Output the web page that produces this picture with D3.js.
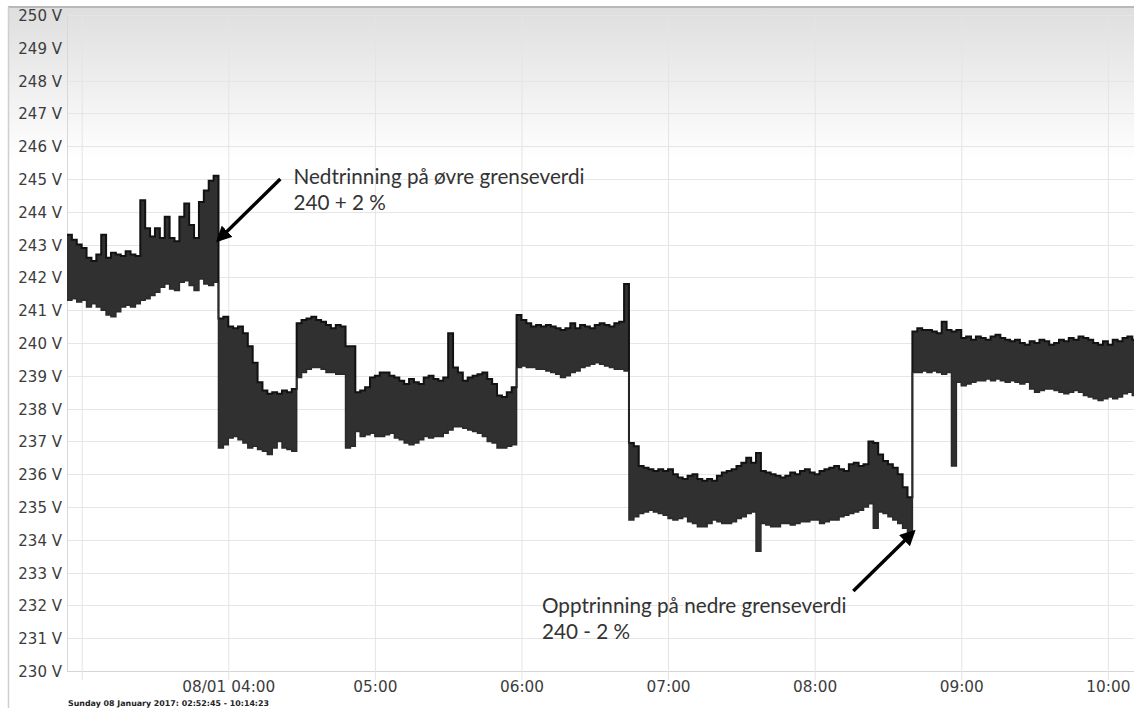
<!DOCTYPE html>
<html>
<head>
<meta charset="utf-8">
<script src="https://cdn.jsdelivr.net/npm/d3@7/dist/d3.min.js"></script>
<style>
  html, body { margin: 0; padding: 0; background: #fff; }
  svg { display: block; }
</style>
</head>
<body>
<svg id="chart" width="1134" height="708"></svg>
<script>
// Spenningsmåling 08.01.2017 – min/maks per 2-minutters intervall
const sampleStart = "2017-01-08T02:54:00";
const sampleStepMinutes = 2;

// Høyeste målte spenning i hvert intervall (V)
const voltMax = [
  243.3, 243.15, 243.0, 242.9, 242.6, 242.5, 242.7, 243.3, 242.6, 242.75,
  242.7, 242.65, 242.8, 242.7, 242.65, 244.35, 243.5, 243.25, 243.5, 243.2,
  243.85, 243.2, 243.1, 243.85, 244.25, 243.6, 243.2, 244.3, 244.65, 244.95,
  245.1, 240.75, 240.8, 240.5, 240.45, 240.5, 240.3, 239.9, 239.4, 238.8,
  238.55, 238.45, 238.5, 238.45, 238.55, 238.5, 238.6, 240.6, 240.7, 240.75,
  240.8, 240.7, 240.65, 240.55, 240.45, 240.55, 240.5, 239.9, 239.9, 238.5,
  238.55, 238.65, 238.95, 239.0, 239.1, 239.1, 239.0, 238.95, 238.85, 238.75,
  238.9, 238.8, 238.75, 238.95, 239.0, 238.9, 238.85, 238.95, 240.3, 239.25,
  239.1, 238.85, 238.95, 239.0, 239.05, 239.1, 238.9, 238.75, 238.4, 238.35,
  238.5, 238.65, 240.85, 240.7, 240.6, 240.5, 240.55, 240.5, 240.55, 240.5,
  240.45, 240.4, 240.45, 240.6, 240.45, 240.55, 240.5, 240.45, 240.55, 240.6,
  240.55, 240.5, 240.6, 240.65, 241.8, 236.95, 236.85, 236.25, 236.2, 236.15,
  236.1, 236.15, 236.1, 236.15, 236.0, 235.9, 235.85, 235.95, 236.0, 235.85,
  235.8, 235.85, 235.8, 235.95, 236.05, 236.1, 236.15, 236.25, 236.35, 236.5,
  236.35, 236.65, 236.1, 236.05, 236.0, 235.95, 235.9, 235.95, 236.05, 236.0,
  236.1, 236.15, 236.05, 236.0, 236.1, 236.15, 236.2, 236.25, 236.15, 236.1,
  236.3, 236.35, 236.25, 236.3, 237.0, 236.95, 236.6, 236.4, 236.3, 236.2,
  236.0, 235.6, 235.3, 240.35, 240.45, 240.4, 240.4, 240.35, 240.3, 240.65,
  240.4, 240.35, 240.4, 240.15, 240.2, 240.1, 240.2, 240.15, 240.1, 240.2,
  240.25, 240.15, 240.1, 240.05, 240.1, 240.0, 239.95, 240.05, 240.0, 240.1,
  240.05, 239.95, 240.0, 240.1, 240.05, 240.15, 240.1, 240.2, 240.15, 240.1,
  240.0, 239.95, 240.05, 239.95, 240.1, 240.05, 240.15, 240.2, 240.1, 240.05,
  240.0
];

// Laveste målte spenning i hvert intervall (V)
const voltMin = [
  241.3, 241.35, 241.25, 241.3, 241.1, 241.2, 241.1, 241.0, 240.85, 240.8,
  240.95, 241.1, 241.15, 241.1, 241.2, 241.3, 241.35, 241.45, 241.55, 241.7,
  241.8, 241.65, 241.6, 241.85, 241.9, 241.75, 241.6, 241.95, 241.8, 241.75,
  241.85, 236.8, 236.9, 237.1, 237.15, 237.05, 236.95, 236.8, 236.85, 236.75,
  236.7, 236.6, 236.8, 237.0, 236.8, 236.75, 236.7, 238.95, 239.1, 239.2,
  239.25, 239.25, 239.2, 239.1, 239.1, 239.05, 239.05, 236.8, 236.85, 237.3,
  237.15, 237.2, 237.25, 237.15, 237.15, 237.2, 237.25, 237.1, 237.05, 236.95,
  236.9, 236.95, 237.05, 237.15, 237.1, 237.15, 237.15, 237.25, 237.35, 237.45,
  237.45, 237.4, 237.35, 237.3, 237.25, 237.15, 237.0, 236.95, 236.8, 236.8,
  236.85, 236.9, 239.25, 239.3, 239.25, 239.25, 239.2, 239.2, 239.15, 239.1,
  239.05, 238.95, 239.0, 239.1, 239.15, 239.25, 239.3, 239.35, 239.4, 239.35,
  239.3, 239.25, 239.2, 239.2, 239.15, 234.6, 234.7, 234.8, 234.85, 234.9,
  234.85, 234.8, 234.75, 234.65, 234.6, 234.65, 234.7, 234.55, 234.5, 234.4,
  234.4, 234.5, 234.6, 234.55, 234.5, 234.5, 234.55, 234.65, 234.7, 234.8,
  234.85, 233.65, 234.5, 234.45, 234.4, 234.4, 234.5, 234.5, 234.45, 234.5,
  234.55, 234.55, 234.6, 234.6, 234.5, 234.55, 234.6, 234.6, 234.7, 234.75,
  234.8, 234.85, 234.9, 235.0, 235.1, 234.35, 234.85, 234.8, 234.7, 234.6,
  234.5, 234.35, 234.15, 239.1, 239.1, 239.15, 239.1, 239.15, 239.1, 239.05,
  239.1, 236.25, 238.8, 238.7, 238.75, 238.8, 238.85, 238.85, 238.9, 238.85,
  238.9, 238.85, 238.8, 238.85, 238.8, 238.75, 238.8, 238.6, 238.5, 238.55,
  238.6, 238.6, 238.55, 238.5, 238.45, 238.5, 238.55, 238.5, 238.4, 238.35,
  238.3, 238.25, 238.3, 238.35, 238.3, 238.35, 238.45, 238.5, 238.4, 238.35,
  238.3
];

const voltTicks = d3.range(230, 251, 1);
const viewStart = "2017-01-08T02:54:00";
const viewEnd = "2017-01-08T10:14:23";
const periodLabel = "Sunday 08 January 2017: 02:52:45 - 10:14:23";

// Merknader: pil (fra -> til) og tekstens startpunkt, i tid og volt
const notes = [
  { lines: ["Nedtrinning på øvre grenseverdi", "240 + 2 %"],
    from: ["04:21:18", 245.0], to: ["03:55:55", 243.14], text: ["04:26:40", 244.85] },
  { lines: ["Opptrinning på nedre grenseverdi", "240 - 2 %"],
    from: ["08:15:50", 232.44], to: ["08:40:25", 234.24], text: ["06:08:25", 231.77] }
];

const W = 1134, H = 708;
const plot = { left: 67, top: 15, bottom: 671, right: W };

const svg = d3.select("#chart");
const defs = svg.append("defs");

const bg = defs.append("linearGradient").attr("id", "bgGrad")
  .attr("x1", 0).attr("y1", 0).attr("x2", 0).attr("y2", 1);
bg.append("stop").attr("offset", "0%").attr("stop-color", "#dedede");
bg.append("stop").attr("offset", "22%").attr("stop-color", "#ffffff");
bg.append("stop").attr("offset", "100%").attr("stop-color", "#ffffff");

defs.append("clipPath").attr("id", "plotClip").append("rect")
  .attr("x", plot.left).attr("y", plot.top - 5)
  .attr("width", plot.right - plot.left).attr("height", plot.bottom - plot.top + 5);

defs.append("marker").attr("id", "arrowHead")
  .attr("viewBox", "0 0 10 10").attr("refX", 8).attr("refY", 5)
  .attr("markerWidth", 4.6).attr("markerHeight", 4.6).attr("orient", "auto")
  .append("path").attr("d", "M0,0 L10,5 L0,10 z").attr("fill", "#000");

// Bakgrunn og ramme
svg.append("rect").attr("x", 8).attr("y", 7).attr("width", W - 8).attr("height", H - 7)
  .attr("fill", "url(#bgGrad)");
svg.append("line").attr("x1", 8).attr("x2", W).attr("y1", 7).attr("y2", 7)
  .attr("stroke", "#b8b8b8").attr("stroke-width", 2);
svg.append("line").attr("x1", 8.5).attr("x2", 8.5).attr("y1", 7).attr("y2", H)
  .attr("stroke", "#cfcfcf").attr("stroke-width", 1.5);

const parse = d3.isoParse;
const t0 = parse(sampleStart);
const data = voltMax.map((hi, i) => ({
  t: d3.timeMinute.offset(t0, i * sampleStepMinutes),
  hi, lo: voltMin[i]
}));

const hourPx = 146.6;
const x = d3.scaleTime()
  .domain([parse(viewStart), parse(viewEnd)])
  .range([plot.left, plot.left + hourPx * (parse(viewEnd) - parse(viewStart)) / 3600000]);
const y = d3.scaleLinear().domain([230, 250]).range([plot.bottom, plot.top]);

const atTime = hms => parse("2017-01-08T" + hms);

// Rutenett
const grid = svg.append("g");
grid.selectAll("line.h").data(voltTicks).join("line")
  .attr("x1", plot.left).attr("x2", plot.right)
  .attr("y1", d => Math.round(y(d)) + 0.5).attr("y2", d => Math.round(y(d)) + 0.5)
  .attr("stroke", d => d === 230 ? "#d4d4d4" : "#e6e6e6").attr("stroke-width", 1);
svg.append("line").attr("x1", plot.left + 0.5).attr("x2", plot.left + 0.5)
  .attr("y1", plot.top).attr("y2", plot.bottom)
  .attr("stroke", "#d8d8d8");

// Tidsakse
const hourTicks = d3.timeHour.range(atTime("03:00:00"), parse(viewEnd));
const xAxis = d3.axisBottom(x)
  .tickValues(hourTicks)
  .tickSizeOuter(0)
  .tickPadding(0)
  .tickFormat(d => {
    const h = d.getHours();
    if (h === 3) return "";
    if (h === 4) return d3.timeFormat("%d/%m %H:%M")(d);
    return d3.timeFormat("%H:%M")(d);
  });
const gx = svg.append("g").attr("transform", `translate(0,${plot.bottom})`).call(xAxis);
gx.select(".domain").remove();
gx.selectAll(".tick line").attr("stroke", "#e4e4e4")
  .attr("y1", -(plot.bottom - plot.top)).attr("y2", 9);
gx.selectAll(".tick text")
  .attr("y", 21).attr("dy", "0")
  .attr("fill", "#3c3c3c")
  .style("font-family", "'DejaVu Sans', Verdana, sans-serif")
  .style("font-size", "15.3px");

// Spenningsakse
const yAxis = d3.axisLeft(y).tickValues(voltTicks).tickSize(0).tickPadding(0)
  .tickFormat(d => d + " V");
const gy = svg.append("g").attr("transform", `translate(${plot.left - 5},0)`).call(yAxis);
gy.select(".domain").remove();
gy.selectAll(".tick text")
  .attr("dy", "0.36em")
  .attr("fill", "#3c3c3c")
  .style("font-family", "'DejaVu Sans', Verdana, sans-serif")
  .style("font-size", "15px");

// Spenningsbånd
const band = svg.append("g").attr("clip-path", "url(#plotClip)");
band.append("path").datum(data)
  .attr("fill", "#303030")
  .attr("d", d3.area().x(d => x(d.t)).y0(d => y(d.lo)).y1(d => y(d.hi)).curve(d3.curveStepAfter));
band.append("path").datum(data)
  .attr("fill", "none").attr("stroke", "#121212").attr("stroke-width", 2)
  .attr("d", d3.line().x(d => x(d.t)).y(d => y(d.hi)).curve(d3.curveStepAfter));
band.append("path").datum(data)
  .attr("fill", "none").attr("stroke", "#2a2a2a").attr("stroke-width", 1.5)
  .attr("d", d3.line().x(d => x(d.t)).y(d => y(d.lo)).curve(d3.curveStepAfter));

// Merknader
const noteG = svg.append("g");
notes.forEach(n => {
  noteG.append("line")
    .attr("x1", x(atTime(n.from[0]))).attr("y1", y(n.from[1]))
    .attr("x2", x(atTime(n.to[0]))).attr("y2", y(n.to[1]))
    .attr("stroke", "#000").attr("stroke-width", 3.4)
    .attr("marker-end", "url(#arrowHead)");
  const tx = x(atTime(n.text[0]));
  const txt = noteG.append("text")
    .attr("x", tx).attr("y", y(n.text[1]))
    .attr("fill", "#333")
    .style("font-family", "Lato, 'Open Sans', sans-serif")
    .style("font-size", "20.7px");
  n.lines.forEach((l, i) => txt.append("tspan")
    .attr("x", tx).attr("dy", i === 0 ? 0 : 26).text(l));
});

// Periode
svg.append("text")
  .attr("x", 68).attr("y", 706)
  .attr("fill", "#222")
  .style("font-family", "'DejaVu Sans', Verdana, sans-serif")
  .style("font-size", "7.9px").style("font-weight", "bold")
  .text(periodLabel);
</script>
</body>
</html>
